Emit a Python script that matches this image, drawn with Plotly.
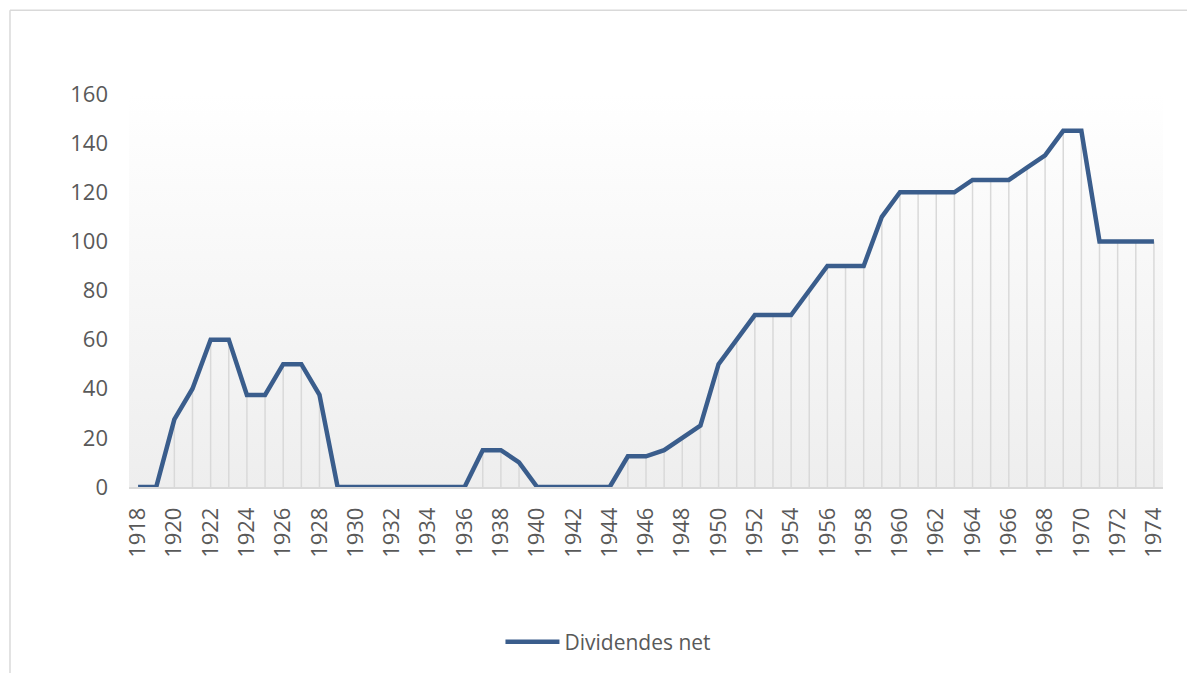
import plotly.graph_objects as go

years = list(range(1918, 1975))
dividendes = [
    0, 0, 27.5, 40, 60, 60, 37.5, 37.5, 50, 50,      # 1918-1927
    37.5, 0, 0, 0, 0, 0, 0, 0, 0, 15,                # 1928-1937
    15, 10, 0, 0, 0, 0, 0, 12.5, 12.5, 15,           # 1938-1947
    20, 25, 50, 60, 70, 70, 70, 80, 90, 90,          # 1948-1957
    90, 110, 120, 120, 120, 120, 125, 125, 125, 130, # 1958-1967
    135, 145, 145, 100, 100, 100, 100,               # 1968-1974
]
series_name = "Dividendes net"
y_ticks = [0, 20, 40, 60, 80, 100, 120, 140, 160]
x_ticks = list(range(1918, 1975, 2))

LINE = "#3a5d8c"
GREY_TXT = "#595959"
DROP = "#d9d9d9"
FONT = "Open Sans"

x_lo, x_hi = years[0] - 0.5, years[-1] + 0.5
y_lo, y_hi = y_ticks[0], y_ticks[-1]

fig = go.Figure()

# plot-area gradient background
fig.add_trace(go.Scatter(
    x=[x_lo, x_hi, x_hi, x_lo, x_lo], y=[y_lo, y_lo, y_hi, y_hi, y_lo],
    mode="none", fill="toself",
    fillgradient=dict(type="vertical", start=y_lo, stop=y_hi,
                      colorscale=[[0, "#eeeeee"], [1, "#ffffff"]]),
    hoverinfo="skip", showlegend=False,
))

# drop lines
fig.add_trace(go.Scatter(
    x=years, y=dividendes, mode="markers",
    marker=dict(size=0.1, color="rgba(0,0,0,0)"),
    error_y=dict(type="data", symmetric=False, array=[0] * len(dividendes),
                 arrayminus=dividendes, thickness=1.5, width=0, color=DROP),
    hoverinfo="skip", showlegend=False,
))

fig.add_trace(go.Scatter(
    x=years, y=dividendes, mode="lines", name=series_name,
    line=dict(color=LINE, width=4.5),
))

# chart area border (top and left visible)
fig.add_shape(type="line", xref="paper", yref="paper",
              x0=-0.1151, x1=1.1, y0=1.2132, y1=1.2132,
              line=dict(color="#d9d9d9", width=1.5))
fig.add_shape(type="line", xref="paper", yref="paper",
              x0=-0.1151, x1=-0.1151, y0=-0.6, y1=1.2132,
              line=dict(color="#d9d9d9", width=1.5))

fig.update_layout(
    width=1187, height=673,
    margin=dict(l=129, r=24, t=94, b=185),
    paper_bgcolor="white", plot_bgcolor="white",
    font=dict(family=FONT, size=22, color=GREY_TXT),
    showlegend=True,
    legend=dict(orientation="h", x=0.4637, xanchor="center",
                y=-0.391, yanchor="middle", itemwidth=54,
                font=dict(family=FONT, size=21, color=GREY_TXT)),
    xaxis=dict(range=[x_lo, x_hi], tickvals=x_ticks, ticktext=[str(v) for v in x_ticks],
               tickangle=-90, showgrid=False, zeroline=False,
               showline=True, linecolor=DROP, linewidth=1.5,
               ticks="", ticklabelstandoff=10),
    yaxis=dict(range=[y_lo, y_hi], tickvals=y_ticks, showgrid=False, zeroline=False,
               showline=False, ticks="", ticklabelstandoff=20),
)

fig.write_html("out.html", config={"displayModeBar": False},
               post_script="document.body.style.margin='0';")
